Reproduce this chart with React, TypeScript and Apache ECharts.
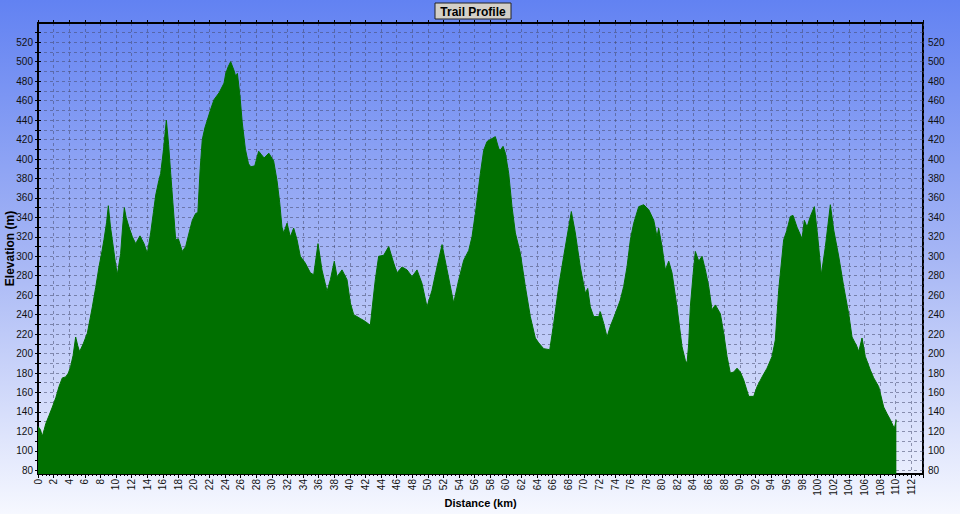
import React, { useEffect, useRef } from "react";
import * as echarts from "echarts";

const distanceKm = [
  0, 0.3, 0.55, 0.8, 1.0, 1.4, 1.84, 2.3, 2.69, 3.12, 3.55, 3.9, 4.19, 4.5, 4.83, 5.1, 5.34, 5.8, 6.33, 6.97,
  7.4, 7.82, 8.2, 8.46, 8.8, 9.02, 9.3, 9.53, 9.9, 10.17, 10.6, 10.85, 11.07, 11.3, 11.67, 12.1, 12.53, 13.08, 13.6, 14.02,
  14.45, 14.8, 15.1, 15.5, 15.73, 16.1, 16.46, 16.75, 17.02, 17.3, 17.66, 18.0, 18.51, 18.94, 19.4, 19.79, 20.22, 20.5, 20.8, 21.07,
  21.4, 21.72, 22.1, 22.57, 23.22, 23.86, 24.08, 24.4, 24.71, 25.14, 25.35, 25.57, 25.9, 26.2, 26.6, 27.0, 27.3, 27.8, 28.3, 28.6,
  29.0, 29.6, 30.22, 30.65, 31.0, 31.29, 31.51, 31.94, 32.36, 32.79, 33.22, 33.64, 34.28, 34.93, 35.36, 35.91, 36.42, 37.07, 37.5, 38.0,
  38.35, 38.99, 39.63, 40.06, 40.49, 41.34, 41.98, 42.62, 42.9, 43.26, 43.69, 44.33, 44.98, 45.62, 46.04, 46.69, 47.33, 47.97, 48.61, 49.25,
  49.89, 50.53, 51.17, 51.82, 52.46, 53.31, 53.96, 54.6, 55.24, 55.66, 56.09, 56.73, 57.16, 57.59, 58.23, 58.65, 59.08, 59.29, 59.64, 59.94,
  60.37, 60.79, 61.22, 61.86, 62.5, 63.14, 63.78, 64.21, 64.86, 65.63, 66.14, 66.78, 67.42, 68.06, 68.4, 68.91, 69.55, 70.2, 70.5, 70.83,
  71.27, 71.91, 72.12, 72.55, 72.98, 73.4, 74.04, 74.68, 75.11, 75.54, 75.97, 76.4, 77.04, 77.68, 78.32, 78.97, 79.39, 79.6, 80.03, 80.46,
  80.89, 81.31, 81.95, 82.6, 83.02, 83.24, 83.45, 83.66, 84.0, 84.3, 84.74, 85.16, 85.59, 86.02, 86.44, 86.87, 87.51, 87.94, 88.37, 88.79,
  89.22, 89.65, 90.07, 90.5, 91.15, 91.79, 92.22, 92.86, 93.5, 94.14, 94.56, 94.99, 95.63, 96.06, 96.49, 96.83, 97.34, 97.99, 98.28, 98.63,
  99.05, 99.57, 100.0, 100.46, 100.98, 101.62, 102.05, 102.69, 103.33, 103.97, 104.4, 105.04, 105.26, 105.68, 106.1, 106.75, 107.18, 107.82, 108.46, 108.9,
  109.31, 109.82, 110.08,
];

const elevationM = [
  125, 122, 115, 122, 128, 136, 145, 155, 166, 175, 176, 180, 187, 198, 217, 208, 202, 210, 221, 248,
  268, 289, 305, 317, 335, 352, 330, 317, 295, 281, 303, 330, 350, 340, 330, 320, 313, 321, 313, 303,
  324, 345, 363, 378, 385, 410, 440, 415, 385, 355, 317, 318, 305, 310, 325, 337, 344, 345, 390, 420,
  432, 440, 450, 461, 468, 478, 488, 495, 500, 491, 485, 488, 465, 437, 410, 395, 392, 393, 408, 405,
  401, 406, 398, 378, 355, 330, 324, 334, 320, 329, 317, 300, 293, 283, 281, 313, 286, 264, 276, 295,
  279, 286, 276, 252, 240, 236, 233, 229, 250, 276, 300, 301, 310, 293, 283, 289, 286, 279, 286, 272,
  248, 265, 289, 312, 286, 252, 276, 296, 306, 320, 344, 385, 409, 418, 421, 423, 411, 409, 413, 406,
  385, 351, 324, 303, 269, 238, 216, 211, 205, 204, 231, 269, 300, 330, 346, 324, 289, 262, 267, 248,
  238, 238, 243, 231, 217, 228, 241, 255, 269, 289, 317, 334, 351, 353, 348, 337, 320, 329, 310, 286,
  295, 283, 248, 207, 193, 190, 210, 248, 280, 305, 295, 300, 286, 269, 245, 250, 241, 221, 197, 180,
  181, 185, 181, 173, 156, 156, 166, 176, 185, 197, 214, 265, 317, 327, 341, 342, 330, 318, 337, 330,
  341, 351, 320, 281, 310, 353, 327, 300, 269, 241, 217, 207, 202, 216, 197, 183, 175, 166, 145, 138,
  132, 123, 132,
];

const xTickLabels = Array.from({ length: 57 }, (_, i) => i * 2); // 0..112
const yTickLabels = [80, 100, 120, 140, 160, 180, 200, 220, 240, 260, 280, 300, 320, 340, 360, 380, 400, 420, 440, 460, 480, 500, 520];
const yGridValues = [80, 90, 100, 110, 120, 130, 140, 150, 160, 170, 180, 190, 200, 210, 220, 230, 240, 250, 260, 270, 280, 290, 300, 310, 320, 330, 340, 350, 360, 370, 380, 390, 400, 410, 420, 430, 440, 450, 460, 470, 480, 490, 500, 510, 520, 530];

const FONT = "'Liberation Sans', Arial, sans-serif";
const GRID_LINE = { color: "rgba(70,75,110,0.55)", type: [3, 3] as any, width: 1 };

export default function App() {
  const ref = useRef<HTMLDivElement>(null);

  useEffect(() => {
    if (!ref.current) return;
    const chart = echarts.init(ref.current, undefined, { renderer: "svg" });
    const data = distanceKm.map((d, i) => [d, elevationM[i]]);
    const yCommon = {
      type: "value" as const,
      min: 76.2,
      max: 539.8,
      axisLine: { show: true, lineStyle: { color: "#000", width: 2 } },
      axisTick: { show: true, length: 3, customValues: yGridValues, lineStyle: { color: "#000" } },
      axisLabel: { customValues: yTickLabels, fontSize: 10, color: "#111", fontFamily: FONT, margin: 5 },
    };
    chart.setOption({
      animation: false,
      backgroundColor: "transparent",
      grid: {
        left: 38,
        right: 37,
        top: 23,
        bottom: 40,
        containLabel: false,
        outerBoundsMode: "none",
        show: true,
        borderColor: "#000",
        borderWidth: 2,
        backgroundColor: "transparent",
      },
      graphic: [
        { type: "rect", shape: { x: 435, y: 3, width: 76, height: 16 }, style: { fill: "#d4d0c8", stroke: "#222", lineWidth: 1 } },
        { type: "text", x: 473, y: 11.5, style: { text: "Trail Profile", font: `bold 12px ${FONT}`, fill: "#000", align: "center", verticalAlign: "middle" } },
      ],
      xAxis: [
        {
          type: "value",
          min: 0,
          max: 113.5,
          interval: 2,
          position: "bottom",
          axisLine: { show: true, lineStyle: { color: "#000", width: 2 } },
          axisTick: { show: true, length: 4, lineStyle: { color: "#000" } },
          minorTick: { show: true, splitNumber: 4, length: 2, lineStyle: { color: "#000" } },
          axisLabel: {
            rotate: 90,
            fontSize: 10,
            color: "#111",
            fontFamily: FONT,
            margin: 5,
            showMaxLabel: false,
            formatter: (v: number) => (xTickLabels.includes(v) ? String(v) : ""),
          },
          splitLine: { show: true, lineStyle: GRID_LINE },
          name: "Distance (km)",
          nameLocation: "middle",
          nameGap: 23,
          nameMoveOverlap: false,
          nameTextStyle: { fontWeight: "bold", fontSize: 11, fontFamily: FONT, color: "#000" },
        },
        {
          type: "value",
          min: 0,
          max: 113.5,
          interval: 2,
          position: "top",
          axisLine: { show: true, lineStyle: { color: "#000", width: 2 } },
          axisTick: { show: true, length: 3, lineStyle: { color: "#000" } },
          axisLabel: { show: false },
          splitLine: { show: false },
        },
      ],
      yAxis: [
        {
          ...yCommon,
          position: "left",
          splitLine: { show: true, lineStyle: GRID_LINE },
          name: "Elevation (m)",
          nameLocation: "middle",
          nameGap: 22,
          nameMoveOverlap: false,
          nameTextStyle: { fontWeight: "bold", fontSize: 12, fontFamily: FONT, color: "#000" },
        },
        { ...yCommon, position: "right", splitLine: { show: false } },
      ],
      series: [
        {
          type: "line",
          data,
          xAxisIndex: 0,
          yAxisIndex: 0,
          symbol: "none",
          lineStyle: { color: "#007000", width: 1 },
          areaStyle: { color: "#007000", opacity: 1, origin: "start" },
          z: 3,
        },
      ],
    });
    return () => chart.dispose();
  }, []);

  return (
    <div
      ref={ref}
      style={{
        position: "fixed",
        left: 0,
        top: 0,
        width: 960,
        height: 514,
        background: "linear-gradient(to bottom, #6282f2 0%, #a6b6f5 50%, #f6f8ff 100%)",
      }}
    />
  );
}
